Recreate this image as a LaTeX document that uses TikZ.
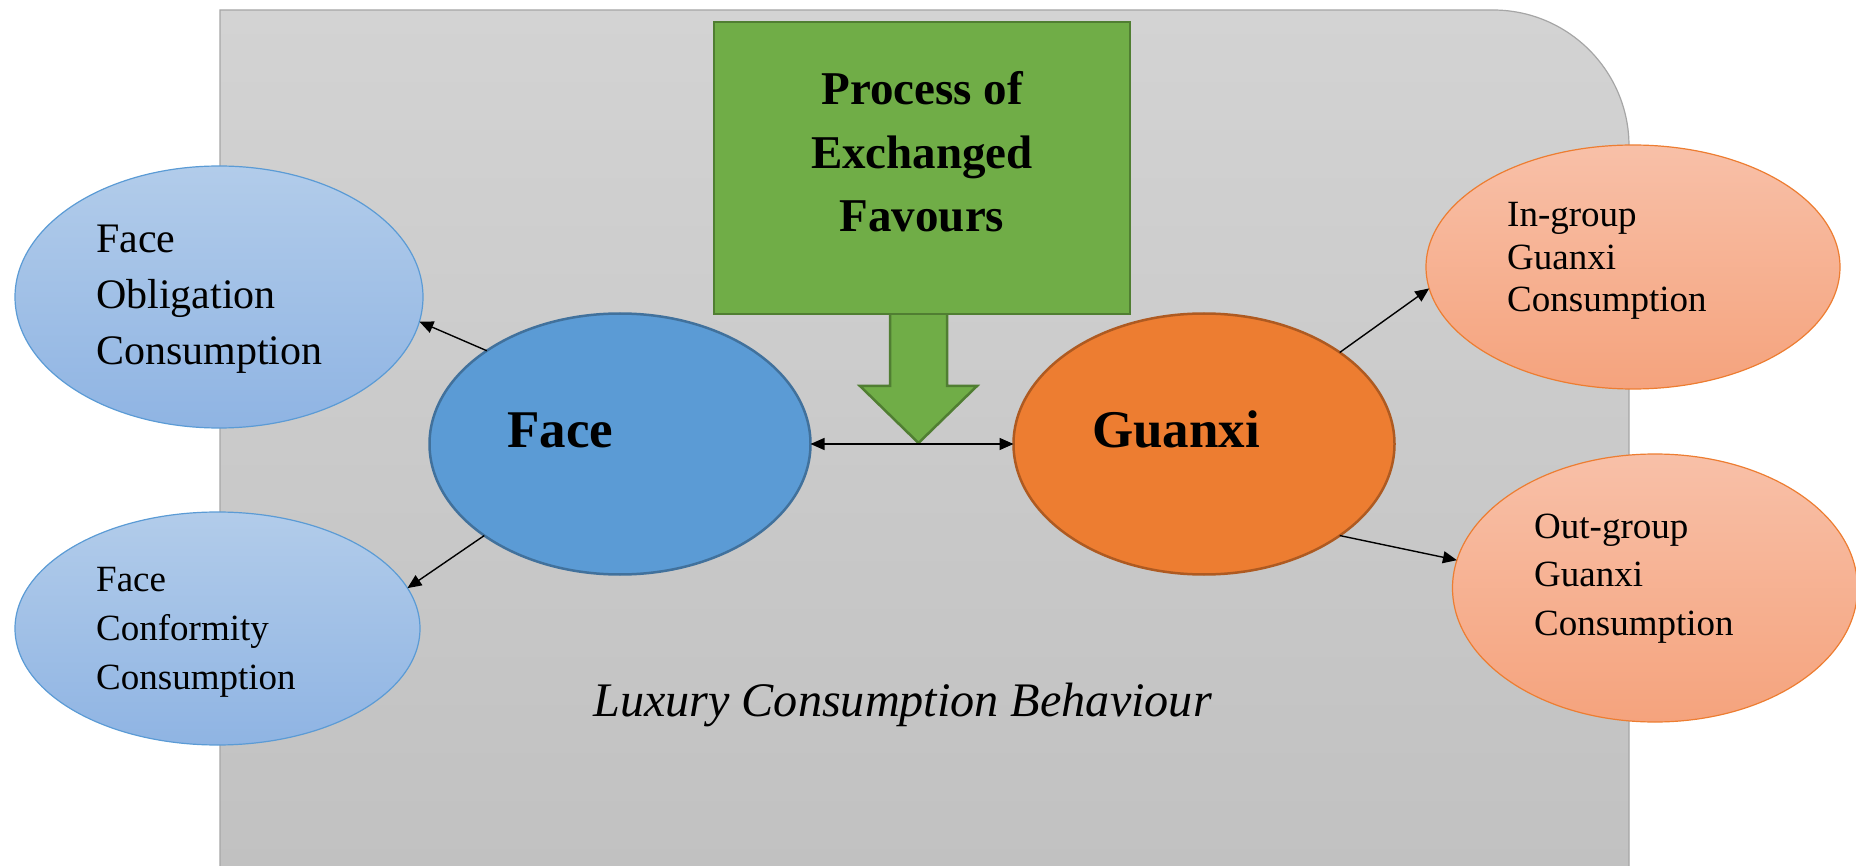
\documentclass[tikz,border=0pt]{standalone}
\usepackage{fontspec}
\setmainfont{Liberation Serif}
\usetikzlibrary{shapes.geometric,arrows.meta}

\definecolor{bgtop}{HTML}{D3D3D3}
\definecolor{bgbot}{HTML}{C1C1C1}
\definecolor{bgline}{HTML}{A6A6A6}
\definecolor{ltbluetop}{HTML}{B2CCEA}
\definecolor{ltbluebot}{HTML}{8FB4E3}
\definecolor{blueline}{HTML}{5B9BD5}
\definecolor{facefill}{HTML}{5B9BD5}
\definecolor{faceline}{HTML}{41719C}
\definecolor{gxfill}{HTML}{ED7D31}
\definecolor{gxline}{HTML}{AE5A21}
\definecolor{ltorangetop}{HTML}{F8C0A8}
\definecolor{ltorangebot}{HTML}{F5A37D}
\definecolor{greenfill}{HTML}{70AD47}
\definecolor{greenline}{HTML}{507E32}

% stacked lines whose baseline is the first line's baseline
\newcommand\txtlines[2]{\begin{tabular}[t]{@{}#1@{}}#2\end{tabular}}

\begin{document}
\begin{tikzpicture}[x=1pt,y=-1pt,
  oval/.style={ellipse, inner sep=0pt, outer sep=0pt},
  subblue/.style={oval, draw=blueline, line width=1.2pt, top color=ltbluetop, bottom color=ltbluebot},
  suborange/.style={oval, draw=gxfill, line width=1.2pt, top color=ltorangetop, bottom color=ltorangebot},
  mainface/.style={oval, draw=faceline, line width=2.5pt, fill=facefill},
  mainguanxi/.style={oval, draw=gxline, line width=2.5pt, fill=gxfill},
  txt/.style={inner sep=0pt, anchor=base west, text=black},
  link/.style={line width=1.4pt, -{Triangle[length=14pt,width=12pt]}},
  twoway/.style={line width=1.4pt, {Triangle[length=14pt,width=12pt]}-{Triangle[length=14pt,width=12pt]}},
]
\useasboundingbox (0,0) rectangle (1856,866);

% background panel with one rounded corner
\path[draw=bgline, line width=1.2pt, top color=bgtop, bottom color=bgbot]
  (220,872) -- (220,10) -- (1493,10)
  .. controls (1568,10) and (1629,71) .. (1629,146)
  -- (1629,872) -- cycle;

% outcome ellipses
\node[subblue, minimum width=408pt, minimum height=262pt] (fo) at (219,297) {};
\node[subblue, minimum width=405pt, minimum height=233pt] (fc) at (217.5,628.5) {};
\node[suborange, minimum width=414pt, minimum height=244pt] (ig) at (1633,267) {};
\node[suborange, minimum width=405pt, minimum height=268pt] (og) at (1655,588) {};

% central constructs
\node[mainface, minimum width=381pt, minimum height=261pt] (face) at (620,444) {};
\node[mainguanxi, minimum width=381pt, minimum height=261pt] (gx) at (1204,444) {};

% process box and its block arrow
\path[draw=greenline, line width=2.5pt, fill=greenfill, line join=miter]
  (890,312) -- (890,386) -- (860,386) -- (918.5,443) -- (977,386) -- (947,386) -- (947,312);
\node[draw=greenline, line width=2.5pt, fill=greenfill, inner sep=0pt,
      minimum width=416pt, minimum height=292pt] (pef) at (922,168) {};
\node[inner sep=0pt, anchor=base, font={\fontsize{47}{63.5}\selectfont\bfseries}] (peftext)
  at (922,105) {\txtlines{c}{Process of\\Exchanged\\Favours}};

% labels
\node[txt, font={\fontsize{42}{56}\selectfont}] (fotext) at (96,253)
  {\txtlines{l}{Face\\Obligation\\Consumption}};
\node[txt, font={\fontsize{37}{49}\selectfont}] (fctext) at (96,591)
  {\txtlines{l}{Face\\Conformity\\Consumption}};
\node[txt, font={\fontsize{37}{42.5}\selectfont}] (igtext) at (1507,227)
  {\txtlines{l}{In-group\\Guanxi\\Consumption}};
\node[txt, font={\fontsize{37}{48.5}\selectfont}] (ogtext) at (1534,538)
  {\txtlines{l}{Out-group\\Guanxi\\Consumption}};
\node[txt, font={\fontsize{53}{60}\selectfont\bfseries}] (facetext) at (507,447) {Face};
\node[txt, font={\fontsize{53}{60}\selectfont\bfseries}] (gxtext) at (1092,447) {Guanxi};
\node[txt, font={\fontsize{48.2}{56}\selectfont\itshape}] (lcb) at (593,716)
  {Luxury Consumption Behaviour};

% connectors
\draw[link] (face.145.7) -- (fo.-7.9);
\draw[link] (face.214.6) -- (fc.12.3);
\draw[link] (gx.34.5) -- (ig.186.2);
\draw[link] (gx.-34.5) -- (og.172.1);
\draw[twoway] (face.east) -- (gx.west);
\end{tikzpicture}
\end{document}
